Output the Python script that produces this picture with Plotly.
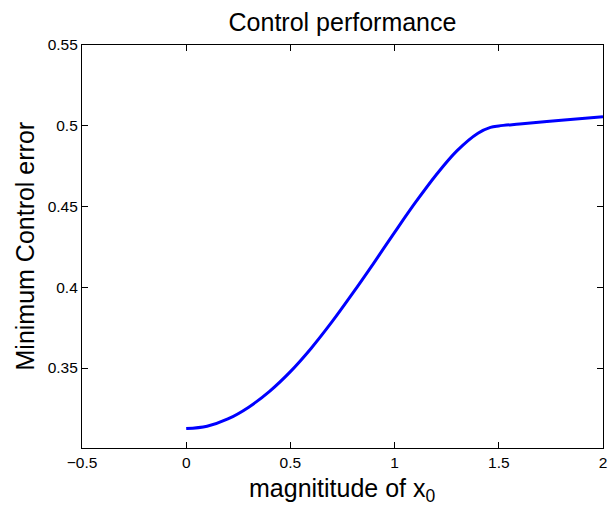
import plotly.graph_objects as go

x_vals = [0.0, 0.1, 0.2, 0.3, 0.4, 0.5, 0.6, 0.7, 0.8, 0.9, 1.0, 1.1, 1.2, 1.3, 1.4, 1.46, 1.5, 1.6, 1.8, 2.0]
y_vals = [0.3125, 0.3140, 0.3185, 0.3258, 0.3356, 0.3478, 0.3623, 0.3787, 0.3965, 0.4150, 0.4340, 0.4525, 0.4697, 0.4846, 0.4954, 0.4990, 0.4999, 0.5011, 0.5034, 0.5056]

x_ticks = [-0.5, 0, 0.5, 1, 1.5, 2]
x_tick_labels = ["\u22120.5", "0", "0.5", "1", "1.5", "2"]
y_ticks = [0.35, 0.4, 0.45, 0.5, 0.55]
y_tick_labels = ["0.35", "0.4", "0.45", "0.5", "0.55"]

W, H = 612, 506
L, R, T, B = 82, 9, 45, 58
PW, PH = W - L - R, H - T - B

fig = go.Figure()
fig.add_trace(go.Scatter(x=x_vals, y=y_vals, mode="lines",
                         line=dict(color="#0000FF", width=3, shape="spline", smoothing=1.0),
                         showlegend=False, hoverinfo="skip"))

font_family = "Liberation Sans, Arial, Helvetica, sans-serif"
axis_common = dict(showline=True, linecolor="black", linewidth=1.2, mirror="ticks",
                   ticks="inside", ticklen=6, tickcolor="black", tickwidth=1,
                   showgrid=False, zeroline=False, automargin=False,
                   tickfont=dict(family=font_family, size=15.5, color="black"))

fig.update_layout(
    width=W, height=H,
    margin=dict(l=L, r=R, t=T, b=B, autoexpand=False),
    paper_bgcolor="white", plot_bgcolor="white",
    title=dict(text="Control performance", x=0.5, xref="paper", xanchor="center",
               y=1 - 22 / H, yanchor="middle", automargin=False,
               font=dict(family=font_family, size=25, color="black")),
    xaxis=dict(range=[-0.5, 2], tickvals=x_ticks, ticktext=x_tick_labels, **axis_common),
    yaxis=dict(range=[0.3005, 0.55], tickvals=y_ticks, ticktext=y_tick_labels, **axis_common),
    annotations=[
        dict(text="magnititude of x<sub>0</sub>", xref="paper", yref="paper",
             x=0.5, y=-(472 - (T + PH)) / PH, xanchor="center", yanchor="top",
             showarrow=False, font=dict(family=font_family, size=25, color="black")),
        dict(text="Minimum Control error", xref="paper", yref="paper",
             x=-(L - 24) / PW, y=0.5, xanchor="center", yanchor="middle", textangle=-90,
             showarrow=False, font=dict(family=font_family, size=25, color="black")),
    ],
)

fig.write_html("out.html",
               config={"displayModeBar": False},
               post_script="document.body.style.margin='0';document.body.style.padding='0';document.body.style.overflow='hidden';")
